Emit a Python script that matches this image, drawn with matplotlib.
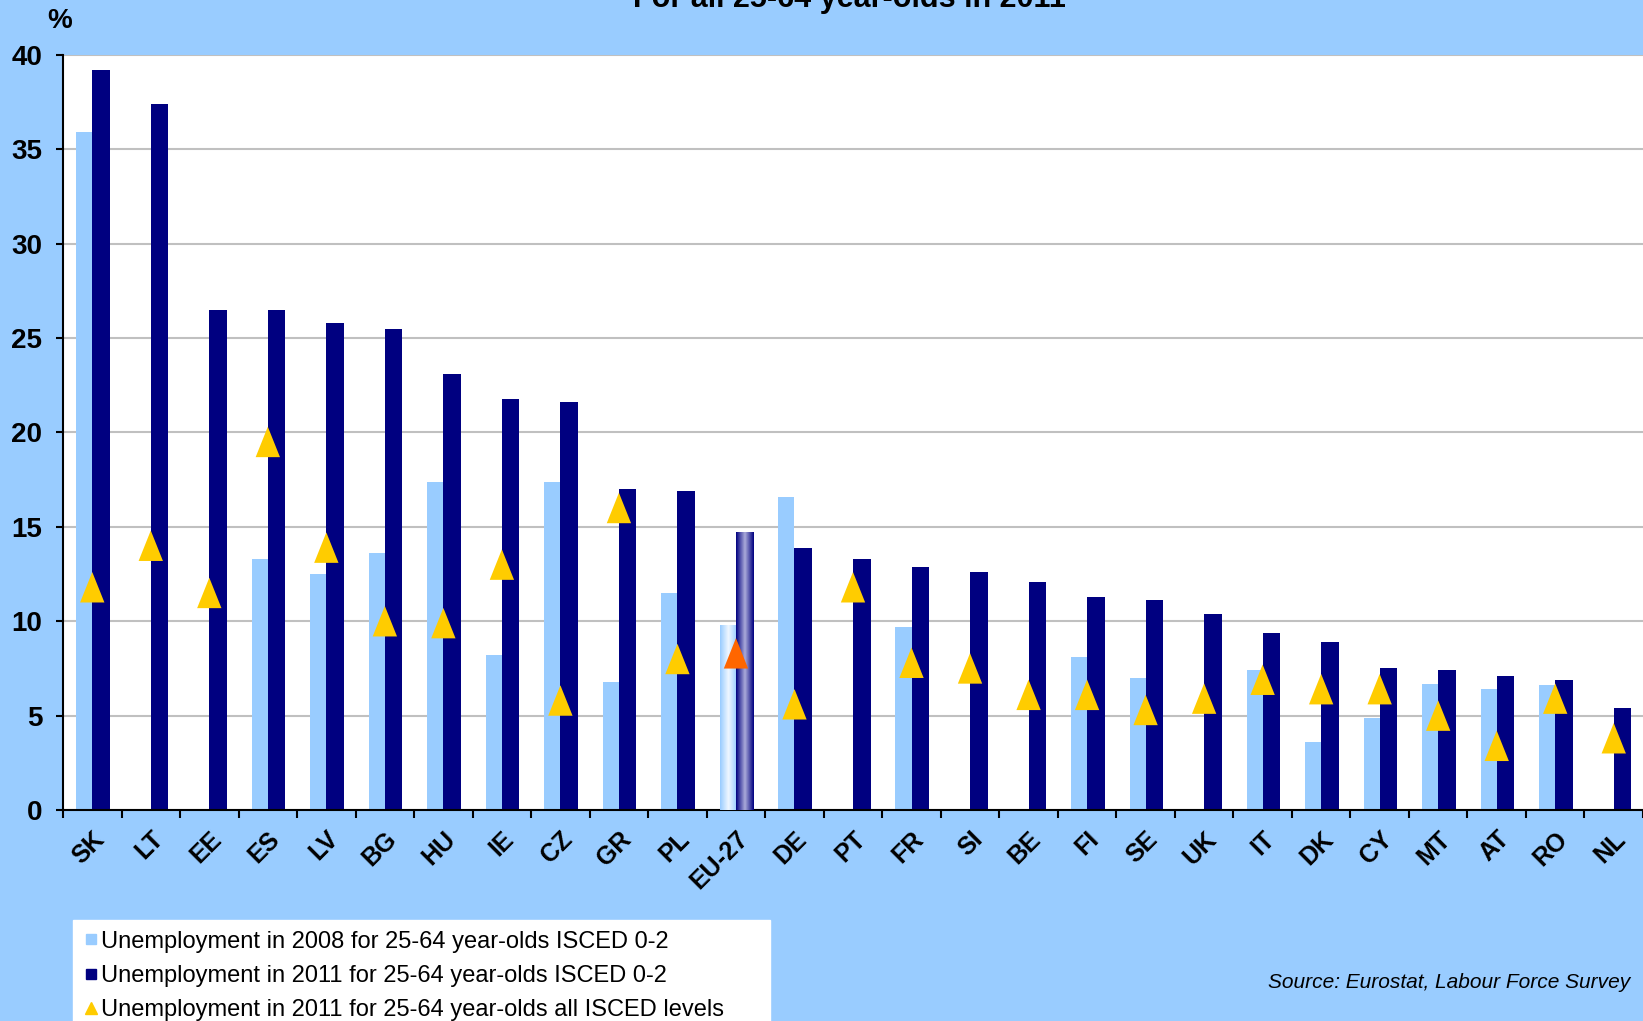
import numpy as np
import matplotlib
matplotlib.use("Agg")
import matplotlib.pyplot as plt
from matplotlib.lines import Line2D

plt.rcParams['font.family'] = ['Liberation Sans', 'DejaVu Sans']

# data (np.nan = no bar)
countries = ["SK", "LT", "EE", "ES", "LV", "BG", "HU", "IE", "CZ", "GR", "PL", "EU-27", "DE", "PT",
             "FR", "SI", "BE", "FI", "SE", "UK", "IT", "DK", "CY", "MT", "AT", "RO", "NL"]
low_2008 = [35.9, np.nan, np.nan, 13.3, 12.5, 13.6, 17.4, 8.2, 17.4, 6.8, 11.5, 9.8, 16.6, np.nan,
            9.7, np.nan, np.nan, 8.1, 7.0, np.nan, 7.4, 3.6, 4.9, 6.7, 6.4, 6.6, np.nan]
low_2011 = [39.2, 37.4, 26.5, 26.5, 25.8, 25.5, 23.1, 21.8, 21.6, 17.0, 16.9, 14.7, 13.9, 13.3,
            12.9, 12.6, 12.1, 11.3, 11.1, 10.4, 9.4, 8.9, 7.5, 7.4, 7.1, 6.9, 5.4]
all_2011 = [11.8, 14.0, 11.5, 19.5, 13.9, 10.0, 9.9, 13.0, 5.8, 16.0, 8.0, 8.3, 5.6, 11.8,
            7.8, 7.5, 6.1, 6.1, 5.3, 5.9, 6.9, 6.4, 6.4, 5.0, 3.4, 5.9, 3.8]
legend_labels = ["Unemployment in 2008 for 25-64 year-olds ISCED 0-2",
                 "Unemployment in 2011 for 25-64 year-olds ISCED 0-2",
                 "Unemployment in 2011 for 25-64 year-olds all ISCED levels"]

bg = "#99CCFF"
light = "#99CCFF"
navy = "#000080"
gold = "#FFCC00"
orange = "#FF6600"

fig = plt.figure(figsize=(16.43, 10.21), dpi=100, facecolor=bg)
ax = fig.add_axes([63 / 1643, 1 - 810 / 1021, 1 - 63 / 1643, (810 - 55) / 1021])
ax.set_facecolor("white")

x = np.arange(len(countries))
eu = countries.index("EU-27")

ax.bar(x - 0.1375, low_2008, width=0.275, color=light, zorder=2)
ax.bar(x + 0.15, low_2011, width=0.30, color=navy, zorder=2)

# EU-27 bars have a shaded look
grad = np.abs(np.linspace(-1, 1, 64))
cm_l = matplotlib.colors.LinearSegmentedColormap.from_list("l", ["#EEF6FF", light])
cm_d = matplotlib.colors.LinearSegmentedColormap.from_list("d", ["#A8A8D8", navy])
ax.imshow(grad[None, :], cmap=cm_l, aspect="auto", zorder=3,
          extent=(eu - 0.275, eu, 0, low_2008[eu]))
ax.imshow(grad[None, :], cmap=cm_d, aspect="auto", zorder=3,
          extent=(eu, eu + 0.30, 0, low_2011[eu]))

tri = [(0, 1), (-0.8, -1), (0.8, -1)]
colors = [orange if c == "EU-27" else gold for c in countries]
ax.scatter(x, all_2011, marker=tri, s=480, c=colors, zorder=4, linewidths=0)

ax.set_xlim(-0.5, len(countries) - 0.5)
ax.set_ylim(0, 40)
ax.set_yticks(np.arange(0, 41, 5))
ax.grid(axis="y", color="#C0C0C0", linewidth=1.5, zorder=0)
ax.set_axisbelow(True)
for s in ["top", "right"]:
    ax.spines[s].set_visible(False)
ax.spines["left"].set_linewidth(1.5)
ax.spines["bottom"].set_linewidth(1.5)
ax.tick_params(axis="y", length=5, width=1.5, labelsize=20, pad=10)
for lab in ax.get_yticklabels():
    lab.set_fontweight("bold")

ax.set_xticks(x)
ax.set_xticklabels(countries, rotation=45, ha="right", rotation_mode="anchor",
                   fontsize=18, fontweight="bold")
ax.set_xticks(np.arange(-0.5, len(countries)), minor=True)
ax.tick_params(axis="x", which="major", length=0, pad=12)
ax.tick_params(axis="x", which="minor", length=6, width=1.5)

fig.text(849 / 1643, 1 - 7 / 1021, "For all 25-64 year-olds in 2011", ha="center",
         va="baseline", fontsize=22, fontweight="bold")
fig.text(60 / 1643, 1 - 21 / 1021, "%", ha="center", va="center", fontsize=20, fontweight="bold")
fig.text(1630 / 1643, 1 - 982 / 1021, "Source: Eurostat, Labour Force Survey", ha="right",
         va="center", fontsize=15, style="italic")

handles = [Line2D([], [], marker="s", ls="none", color=light, markersize=7),
           Line2D([], [], marker="s", ls="none", color=navy, markersize=7),
           Line2D([], [], marker="^", ls="none", color=gold, markersize=9)]
leg = fig.legend(handles, legend_labels, loc="upper left", mode="expand",
                 bbox_to_anchor=(73 / 1643, 1 - 920 / 1021 - 0.01, 697 / 1643, 0.01),
                 fontsize=17, frameon=True, fancybox=False, framealpha=1,
                 edgecolor="white", handlelength=0.6, handletextpad=0.15,
                 labelspacing=0.52, borderpad=0.45, borderaxespad=0)

fig.savefig("out.png", dpi=100, facecolor=bg)
